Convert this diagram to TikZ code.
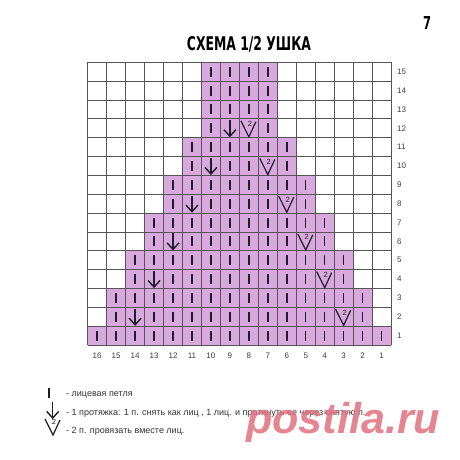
\documentclass[tikz,border=0pt]{standalone}
\usepackage{fontspec}
\setmainfont{Liberation Sans}
\newfontfamily\condfont{DejaVu Sans Condensed}
\definecolor{pinkcell}{RGB}{217,168,222}
\definecolor{gridc}{RGB}{85,85,85}
\definecolor{symc}{RGB}{30,30,40}
\definecolor{numc}{RGB}{60,60,60}
\definecolor{wmc}{RGB}{226,112,128}
\begin{document}
\begin{tikzpicture}[x=1pt,y=-1pt,
  gridline/.style={gridc, line width=0.8pt},
  symline/.style={symc, line width=1.5pt},
  numlabel/.style={numc, font=\fontsize{8}{8}\selectfont, inner sep=0pt},
  legtext/.style={black!80, font=\fontsize{9}{9}\selectfont, inner sep=0pt, anchor=base west},
  pics/barsym/.style={code={\draw[symline] (0,-5) -- (0,5);}},
  pics/arrowsym/.style={code={
    \draw[symline] (0,-8) -- (0,7.6);
    \draw[symline, line width=1.4pt, line join=miter] (-6,1.4) -- (0,8) -- (6,1.4);}},
  pics/vsym/.style={code={
    \draw[symc, line width=1.2pt, line join=miter] (-8,-7.5) -- (0,8.6) -- (7,-6.5);
    \node[symc, font=\fontsize{7.5}{7.5}\selectfont, inner sep=0pt] at (1,-4.2) {2};}}
]
\useasboundingbox (0,0) rectangle (460,460);
\fill[white] (0,0) rectangle (460,460);
\def\xo{87.7}\def\yo{62.3}\def\cw{18.96}\def\ch{18.85}
% pink cells
\foreach \r in {1,...,15}{
  \pgfmathtruncatemacro\k{min(6,floor(\r/2))}
  \pgfmathsetmacro\xa{\xo+\k*\cw}
  \pgfmathsetmacro\xb{\xo+(16-\k)*\cw}
  \pgfmathsetmacro\ya{\yo+(15-\r)*\ch}
  \pgfmathsetmacro\yb{\ya+\ch}
  \fill[pinkcell] (\xa,\ya) rectangle (\xb,\yb);
}
% grid
\foreach \i in {0,...,16}{
  \pgfmathsetmacro\gx{\xo+\i*\cw}
  \draw[gridline] (\gx,\yo) -- (\gx,{\yo+15*\ch});
}
\foreach \j in {0,...,15}{
  \pgfmathsetmacro\gy{\yo+\j*\ch}
  \draw[gridline] (\xo,\gy) -- ({\xo+16*\cw},\gy);
}
% symbols
\foreach \r in {1,...,15}{
  \pgfmathtruncatemacro\k{min(6,floor(\r/2))}
  \pgfmathtruncatemacro\m{(mod(\r,2)==0)*(\r<=12)*\r/2}
  \pgfmathtruncatemacro\ca{\k+1}
  \pgfmathtruncatemacro\cb{16-\k}
  \foreach \c in {\ca,...,\cb}{
    \pgfmathsetmacro\cx{\xo+(16.5-\c)*\cw}
    \pgfmathsetmacro\cy{\yo+(15.5-\r)*\ch}
    \pgfmathtruncatemacro\isarrow{(\m>0)*(\c==15-\m)}
    \pgfmathtruncatemacro\isv{(\m>0)*(\c==2+\m)}
    \ifnum\isarrow=1 \pic at (\cx,\cy) {arrowsym};
    \else\ifnum\isv=1 \pic at (\cx,\cy) {vsym};
    \else \pic at (\cx,\cy) {barsym};\fi\fi
  }
}
% column numbers
\foreach \c in {1,...,16}{
  \pgfmathsetmacro\cx{\xo+(16.5-\c)*\cw}
  \node[numlabel] (col\c) at (\cx,356) {\c};
}
% row numbers
\foreach \r in {1,...,15}{
  \pgfmathsetmacro\cy{\yo+(15.5-\r)*\ch}
  \node[numlabel, anchor=west] (row\r) at (397,\cy) {\r};
}
% title and page number
\node[anchor=base, inner sep=0pt] (title) at (249,50)
  {\resizebox{124pt}{14pt}{\condfont\bfseries СХЕМА 1/2 УШКА}};
\node[anchor=base, inner sep=0pt] (pagenum) at (427,30)
  {\resizebox{8pt}{13pt}{\condfont\bfseries 7}};
% legend
\pic at (49,393) {barsym};
\pic at (52.7,410) {arrowsym};
\pic at (53,426.5) {vsym};
\node[legtext] (leg1) at (66,396.5) {- лицевая петля};
\node[legtext] (leg2) at (66,415) {- 1 протяжка: 1 п. снять как лиц , 1 лиц. и протянуть ее через снятую п.};
\node[legtext] (leg3) at (66,433.5) {- 2 п. провязать вместе лиц.};
% watermark
\node[anchor=base west, inner sep=0pt, text=wmc, opacity=0.85] (wm) at (246,433)
  {\resizebox{194pt}{!}{\bfseries\itshape postila.ru}};
\end{tikzpicture}
\end{document}
